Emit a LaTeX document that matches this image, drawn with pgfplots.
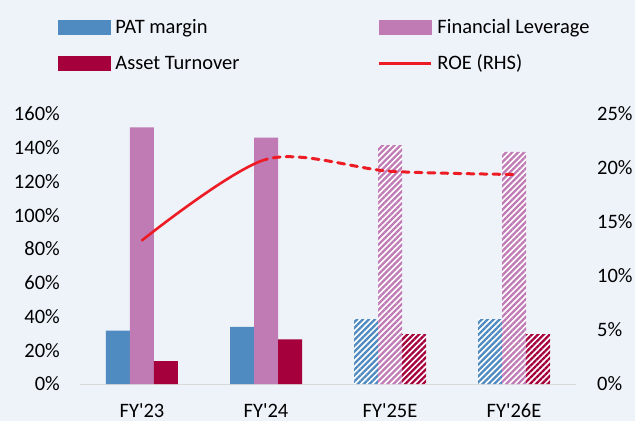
\documentclass[border=0pt]{standalone}
\usepackage{pgfplots}
\pgfplotsset{compat=1.18}
\usepackage{fontspec}
\setmainfont{Carlito}[Ligatures=TeXOff]
\usetikzlibrary{patterns.meta}
\definecolor{bgc}{HTML}{EEF3FA}
\definecolor{patc}{HTML}{4F8BC1}
\definecolor{levc}{HTML}{C07BB5}
\definecolor{atc}{HTML}{A5003C}
\definecolor{roec}{HTML}{ED1C24}
\definecolor{axc}{HTML}{D9D9D9}
\newcommand{\fnt}{\fontsize{20.5bp}{24bp}\selectfont}
\tikzset{hatch/.style={draw=none, fill=white, postaction={pattern={Lines[angle=45,distance=4.2bp,line width=2.3bp]}, pattern color=#1}}}
\begin{document}
\begin{tikzpicture}
\path[use as bounding box, fill=bgc] (-80bp,-37bp) rectangle (555bp,384bp);
\begin{axis}[
  at={(0,0)}, anchor=south west,
  scale only axis, width=496bp, height=270bp,
  xmin=-0.5, xmax=3.5, ymin=0, ymax=160,
  axis lines*=left,
  x axis line style={draw=axc, line width=1bp},
  y axis line style={draw=none},
  tick style={draw=none},
  xtick={0,1,2,3},
  xticklabels={FY{\char39}23,FY{\char39}24,FY{\char39}25E,FY{\char39}26E},
  xticklabel style={anchor=base, yshift=-33bp, inner sep=0pt},
  ytick={0,20,40,60,80,100,120,140,160},
  yticklabels={0\%,20\%,40\%,60\%,80\%,100\%,120\%,140\%,160\%},
  yticklabel style={anchor=east, inner sep=0pt, xshift=-20bp},
  tick label style={font=\fnt},
  legend columns=2,
  legend style={font=\fnt, draw=none, fill=none, inner sep=0pt, outer sep=0pt,
    at={(axis description cs:-0.04435,1.3648)}, anchor=north west,
    row sep=13bp, cells={anchor=west},
    nodes={inner sep=0pt, text height=18bp, text depth=5bp},
    /tikz/every odd column/.append style={column sep=5bp},
    /tikz/every even column/.append style={column sep=138bp}},
  clip=false,
]
\addlegendimage{legend image code/.code={\fill[patc] (0bp,-7bp) rectangle (52bp,7bp);}}
\addlegendentry{PAT margin}
\addlegendimage{legend image code/.code={\fill[levc] (0bp,-7bp) rectangle (52bp,7bp);}}
\addlegendentry{Financial Leverage}
\addlegendimage{legend image code/.code={\fill[atc] (0bp,-7bp) rectangle (52bp,7bp);}}
\addlegendentry{Asset Turnover}
\addlegendimage{legend image code/.code={\draw[roec, line width=3bp] (0bp,0bp) -- (52bp,0bp);}}
\addlegendentry{ROE (RHS)}
% actuals
\addplot[ybar, forget plot, bar width=24bp, bar shift=-24bp, draw=none, fill=patc] coordinates {(0,31.6) (1,33.8)};
\addplot[ybar, forget plot, bar width=24bp, bar shift=0bp, draw=none, fill=levc] coordinates {(0,152) (1,146)};
\addplot[ybar, forget plot, bar width=24bp, bar shift=24bp, draw=none, fill=atc] coordinates {(0,13.6) (1,26.5)};
% estimates
\addplot[ybar, forget plot, bar width=24bp, bar shift=-24bp, hatch=patc] coordinates {(2,38.5) (3,38.5)};
\addplot[ybar, forget plot, bar width=24bp, bar shift=0bp, hatch=levc] coordinates {(2,141.6) (3,137.5)};
\addplot[ybar, forget plot, bar width=24bp, bar shift=24bp, hatch=atc] coordinates {(2,29.6) (3,29.6)};
\end{axis}
\begin{axis}[
  at={(0,0)}, anchor=south west,
  scale only axis, width=496bp, height=270bp,
  xmin=-0.5, xmax=3.5, ymin=0, ymax=25,
  hide x axis,
  axis y line*=right,
  y axis line style={draw=none},
  tick style={draw=none},
  ytick={0,5,10,15,20,25},
  yticklabels={0\%,5\%,10\%,15\%,20\%,25\%},
  yticklabel style={anchor=west, inner sep=0pt, xshift=21bp},
  tick label style={font=\fnt},
  clip=false,
]
\begin{scope}
\clip (axis cs:-0.6,-10) rectangle (axis cs:1,40);
\addplot[smooth, roec, line width=2.6bp, line cap=round] coordinates {(0,13.3) (1,20.8) (2,19.7) (3,19.4)};
\end{scope}
\begin{scope}
\clip (axis cs:1,-10) rectangle (axis cs:3.6,40);
\addplot[smooth, roec, line width=3bp, line cap=round, dash pattern=on 7bp off 6bp] coordinates {(0,13.3) (1,20.8) (2,19.7) (3,19.4)};
\end{scope}
\end{axis}
\end{tikzpicture}
\end{document}
